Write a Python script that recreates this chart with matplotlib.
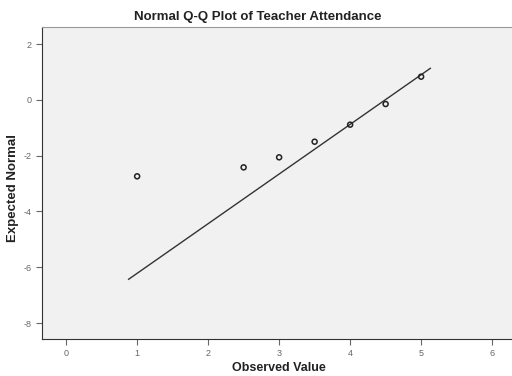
import numpy as np
import matplotlib.pyplot as plt

plt.rcParams["font.family"] = ["Liberation Sans", "DejaVu Sans"]
plt.rcParams["axes.unicode_minus"] = False

# ---------- Dados ----------
observed = [1.0, 2.5, 3.0, 3.5, 4.0, 4.5, 5.0]
expected = [-2.74, -2.42, -2.06, -1.50, -0.89, -0.15, 0.83]

line_x = [0.88, 5.13]
line_y = [-6.43, 1.13]

x_ticks = [0, 1, 2, 3, 4, 5, 6]
y_ticks = [2, 0, -2, -4, -6, -8]

# ---------- Figura ----------
fig = plt.figure(figsize=(5.12, 3.76), dpi=100)
ax = fig.add_axes([42 / 512, 1 - 339 / 376, 1 - 42 / 512, (339 - 27) / 376])
ax.set_facecolor("#f1f1f1")

ax.plot(line_x, line_y, color="#333333", lw=1.0)
ax.scatter(observed, expected, s=13, facecolors="none", edgecolors="#222222", linewidths=1.1, zorder=3)

ax.set_xlim(-0.34, 6.28)
ax.set_ylim(-8.57, 2.61)
ax.set_xticks(x_ticks)
ax.set_yticks(y_ticks)
ax.tick_params(labelsize=6.5, colors="#666666", length=4, width=0.8)

ax.spines["right"].set_visible(False)
ax.spines["top"].set_color("#999999")
ax.spines["left"].set_color("#333333")
ax.spines["bottom"].set_color("#333333")

fig.text(258 / 512, 1 - 17 / 376, "Normal Q-Q Plot of Teacher Attendance",
         ha="center", va="center", fontsize=9.5, fontweight="bold", color="#222222")
fig.text(279 / 512, 1 - 368 / 376, "Observed Value",
         ha="center", va="center", fontsize=9, fontweight="bold", color="#222222")
fig.text(13 / 512, 1 - 188 / 376, "Expected Normal", rotation=90,
         ha="center", va="center", fontsize=9.5, fontweight="bold", color="#222222")

fig.savefig("out.png", dpi=100)
